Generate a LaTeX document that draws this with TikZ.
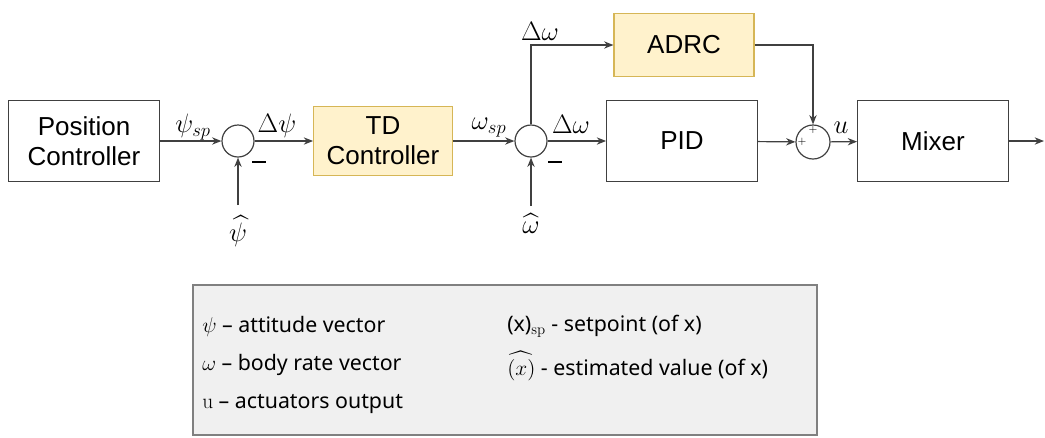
\RequirePackage{fix-cm}
\documentclass[tikz,border=0pt]{standalone}
\usepackage{amsmath}
\usepackage{fontspec}
\setsansfont{Liberation Sans}
\newfontfamily\legfont{Noto Sans}
\usetikzlibrary{arrows.meta, positioning}
\definecolor{TDfill}{HTML}{FFF2CC}
\definecolor{TDline}{HTML}{D6B656}
\definecolor{Linecol}{HTML}{404040}

\begin{document}
\begin{tikzpicture}[
  x=0.75pt, y=-0.75pt,
  blk/.style={
    rectangle, draw=Linecol, line width=0.9pt,
    font=\sffamily\fontsize{19.5}{22.5}\selectfont,
    align=center, inner sep=0pt,
    minimum width=113pt, minimum height=60.75pt
  },
  ylw/.style={blk, draw=TDline, fill=TDfill},
  sumj/.style={
    circle, draw=Linecol, line width=0.9pt,
    minimum size=24pt, inner sep=0pt
  },
  sig/.style={
    -{Stealth[length=7pt, width=5.5pt]},
    line width=0.9pt, draw=Linecol
  },
  lbl/.style={font=\fontsize{20}{20}\selectfont, inner sep=0pt},
  sgn/.style={inner sep=0pt, text=black},
  leg/.style={font=\legfont\fontsize{16}{16}\selectfont, inner sep=0pt, anchor=west}
]
\useasboundingbox (0,0) rectangle (1045,437);

%% ── Bloques ──────────────────────────────────────────────────────────────
\node[blk] (posc) at (84,141) {Position\\Controller};
\node[sumj] (sum1) at (238,141) {};
\node[ylw, minimum width=104pt, minimum height=51.75pt] (td) at (383,141) {TD\\Controller};
\node[sumj] (sum2) at (531,141) {};
\node[blk] (pid) at (682,141) {PID};
\node[ylw, minimum width=105pt, minimum height=47pt] (adrc) at (684,45) {ADRC};
\node[sumj, minimum size=25.5pt] (sum3) at (813,142) {};
\node[blk] (mix) at (933,141) {Mixer};

\coordinate (fb1) at (238,205);
\coordinate (fb2) at (531,206);
\coordinate (outp) at (1044,141);

%% ── Señales ──────────────────────────────────────────────────────────────
\draw[sig] (posc) -- (sum1);
\draw[sig] (sum1) -- (td);
\draw[sig] (td) -- (sum2);
\draw[sig] (sum2) -- (pid);
\draw[sig] (sum2.north) |- (adrc);
\draw[sig] (adrc) -| (sum3.north);
\draw[sig] (pid) -- (sum3);
\draw[sig] (sum3) -- (mix);
\draw[sig] (mix) -- (outp);
\draw[sig] (fb1) -- (sum1);
\draw[sig] (fb2) -- (sum2);

%% ── Etiquetas ────────────────────────────────────────────────────────────
\node[lbl] (lpsisp) at (193,127) {$\psi_{sp}$};
\node[lbl] (ldpsi) at (277,126) {$\Delta\psi$};
\node[lbl] (lwsp) at (489,128) {$\omega_{sp}$};
\node[lbl] (ldw) at (571,124) {$\Delta\omega$};
\node[lbl] (ldwt) at (540,31) {$\Delta\omega$};
\node[lbl] (lu) at (841,128) {$u$};
\node[lbl, anchor=north] (lpsih) at (238,215) {$\widehat{\psi}$};
\node[lbl, anchor=north] (lwh) at (531,213) {$\widehat{\omega}$};
\node[sgn] (m1) at (259,162) {\rule{10pt}{2.2pt}};
\node[sgn] (m2) at (555,162) {\rule{10pt}{2.2pt}};
\node[sgn, font=\fontsize{8}{8}\selectfont] (p1) at (813,130) {$+$};
\node[sgn, font=\fontsize{8}{8}\selectfont] (p2) at (802,142) {$+$};

%% ── Leyenda ──────────────────────────────────────────────────────────────
\node[rectangle, draw=gray, line width=0.8pt, fill=gray!12,
      minimum width=468pt, minimum height=112.5pt] (legbox) at (505,360) {};
\node[leg] (lg1) at (202,326) {$\psi$ – attitude vector};
\node[leg] (lg2) at (202,365) {$\omega$ – body rate vector};
\node[leg] (lg3) at (202,404) {{\rmfamily u} – actuators output};
\node[leg] (lg4) at (507,326) {(x)$_{\mathrm{sp}}$ - setpoint (of x)};
\node[leg] (lg5) at (507,366) {$\widehat{(x)}$ - estimated value (of x)};

\end{tikzpicture}
\end{document}
